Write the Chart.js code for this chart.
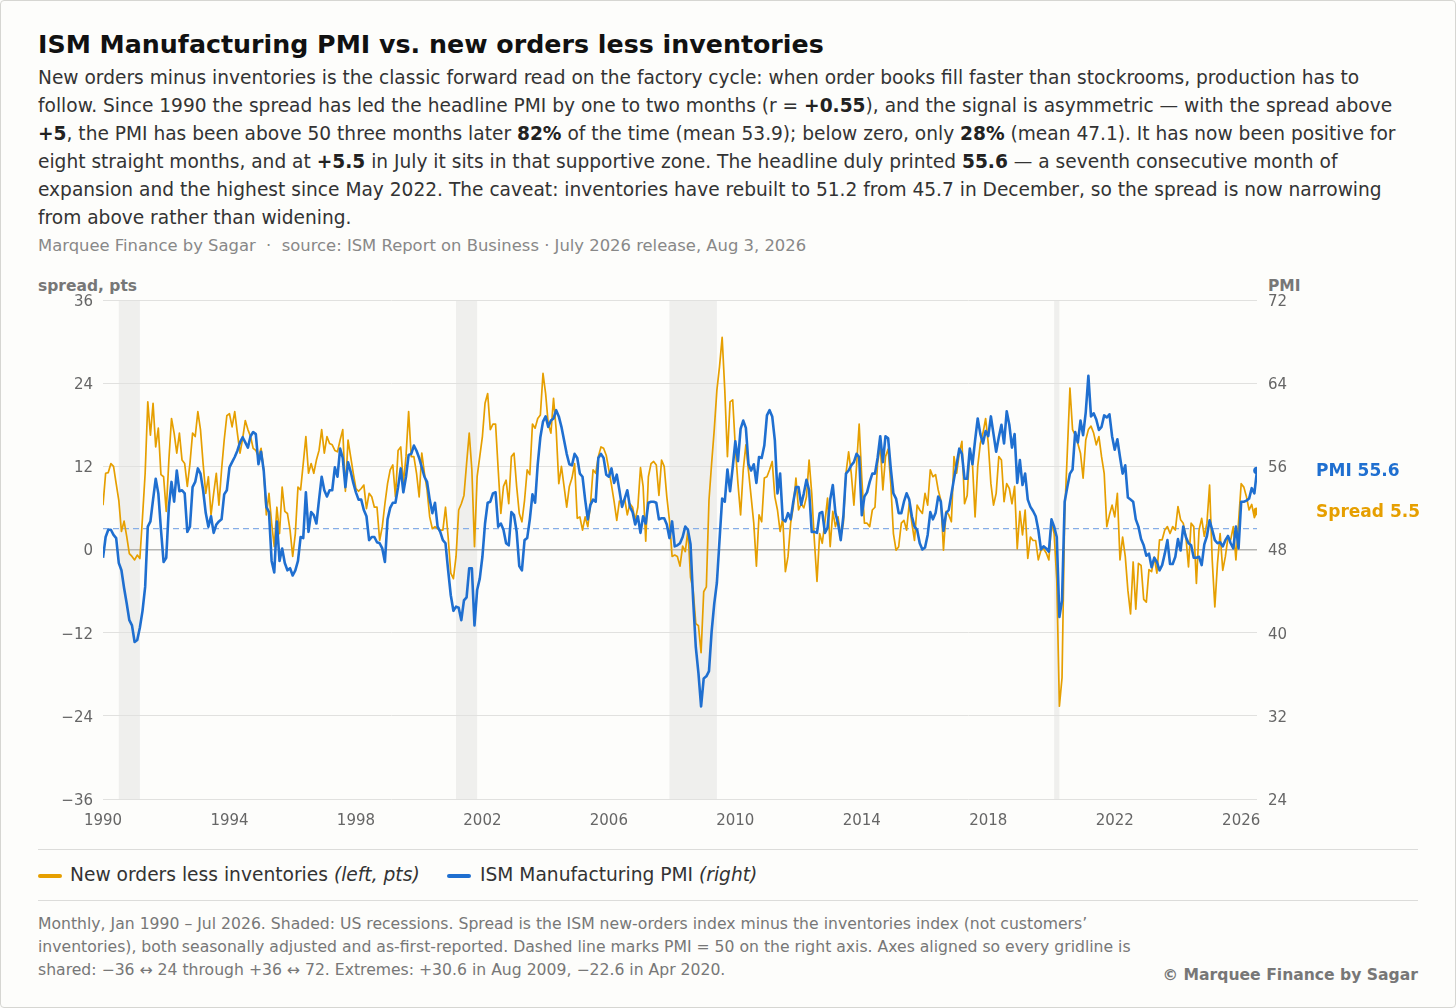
<!DOCTYPE html>
<html>
<head>
<meta charset="utf-8">
<script src="https://cdn.jsdelivr.net/npm/chart.js@4.4.1/dist/chart.umd.min.js"></script>
<style>
html,body{margin:0;padding:0;background:#fdfdfb;}
body{width:1456px;height:1008px;position:relative;overflow:hidden;font-family:'DejaVu Sans',sans-serif;}
#frame{position:absolute;left:0;top:0;width:1454px;height:1006px;border:1px solid #d6d6d2;border-radius:4px;}
.abs{position:absolute;white-space:nowrap;}
#title{left:38px;top:30px;font-size:25.3px;line-height:30px;font-weight:bold;color:#111;}
#sub{left:38px;top:64px;font-size:18.6px;line-height:28px;color:#333;}
#sub b{color:#222;}
#src{left:38px;top:236px;font-size:16.4px;line-height:20px;color:#888;}
.axt{top:277px;font-size:15.5px;line-height:18px;font-weight:bold;color:#777;}
#chartwrap{position:absolute;left:0;top:272px;width:1456px;height:560px;}
.sep{position:absolute;left:38px;width:1380px;height:1px;background:#dcdcda;}
.sw{position:absolute;height:4px;border-radius:2px;}
.leg{top:863px;font-size:18.65px;line-height:24px;color:#333;}
#foot{left:38px;top:912px;font-size:15.65px;line-height:23px;color:#777;}
#copy{right:38px;top:964px;font-size:15.6px;line-height:22px;font-weight:bold;color:#777;}
</style>
</head>
<body>
<div id="frame"></div>
<div class="abs" id="title">ISM Manufacturing PMI vs. new orders less inventories</div>
<div class="abs" id="sub">New orders minus inventories is the classic forward read on the factory cycle: when order books fill faster than stockrooms, production has to<br>follow. Since 1990 the spread has led the headline PMI by one to two months (r = <b>+0.55</b>), and the signal is asymmetric — with the spread above<br><b>+5</b>, the PMI has been above 50 three months later <b>82%</b> of the time (mean 53.9); below zero, only <b>28%</b> (mean 47.1). It has now been positive for<br>eight straight months, and at <b>+5.5</b> in July it sits in that supportive zone. The headline duly printed <b>55.6</b> — a seventh consecutive month of<br>expansion and the highest since May 2022. The caveat: inventories have rebuilt to 51.2 from 45.7 in December, so the spread is now narrowing<br>from above rather than widening.</div>
<div class="abs" id="src">Marquee Finance by Sagar &nbsp;·&nbsp; source: ISM Report on Business · July 2026 release, Aug 3, 2026</div>
<div class="abs axt" style="left:38px;">spread, pts</div>
<div class="abs axt" style="left:1268px;">PMI</div>
<div id="chartwrap"><canvas id="c" width="1456" height="560"></canvas></div>
<div class="sep" style="top:849px;"></div>
<div class="sw" style="left:38px;top:874px;width:24px;background:#E69F00;"></div>
<div class="abs leg" style="left:70px;">New orders less inventories <i>(left, pts)</i></div>
<div class="sw" style="left:447px;top:874px;width:24px;background:#1F6FD0;"></div>
<div class="abs leg" style="left:480px;">ISM Manufacturing PMI <i>(right)</i></div>
<div class="sep" style="top:900px;"></div>
<div class="abs" id="foot">Monthly, Jan 1990 – Jul 2026. Shaded: US recessions. Spread is the ISM new-orders index minus the inventories index (not customers’<br>inventories), both seasonally adjusted and as-first-reported. Dashed line marks PMI = 50 on the right axis. Axes aligned so every gridline is<br>shared: −36 ↔ 24 through +36 ↔ 72. Extremes: +30.6 in Aug 2009, −22.6 in Apr 2020.</div>
<div class="abs" id="copy">© Marquee Finance by Sagar</div>

<script>
// ---- Data: monthly, starting Jan 1990 ----
const startYear = 1990;

const spread1990s = [
  6.4, 11.0, 11.1, 12.4, 12.0, 9.5, 7.1, 2.6, 4.1, 1.9, -0.6, -1.0,
  -1.5, -0.8, -1.3, 4.7, 11.0, 21.3, 16.5, 21.1, 14.8, 17.5, 10.8, 10.5,
  5.5, 12.9, 18.9, 16.8, 13.9, 16.8, 12.9, 12.4, 9.1, 12.4, 16.8, 16.3,
  19.9, 17.3, 12.4, 8.1, 10.5, 5.0, 8.1, 11.0, 6.4, 11.5, 15.8, 19.3,
  19.6, 17.7, 19.9, 16.8, 13.9, 16.0, 18.6, 17.3, 16.3, 14.6, 14.3, 13.4,
  14.6, 11.5, 5.0, 8.1, 3.8, 0.4, 6.1, 2.3, 9.0, 5.5, 5.2, 2.8,
  -1.0, 2.3, 9.0, 8.6, 12.4, 16.3, 11.0, 12.4, 11.0, 12.9, 14.3, 17.3,
  13.9, 16.3, 15.3, 15.1, 14.3, 14.1, 15.8, 17.3, 8.4, 15.8, 13.4, 11.0,
  8.8, 8.4, 8.8, 9.3, 5.9, 8.1, 7.6, 6.1, 6.1, 1.3, 3.3, 6.6,
  9.5, 11.5, 12.2, 7.6, 14.3, 14.8, 9.5, 13.4, 19.9, 13.4, 13.4, 11.0
];
const spread2000s = [
  7.6, 13.9, 11.0, 8.6, 4.7, 3.0, 3.3, 3.0, 2.8, 2.8, 6.1, 1.8,
  -3.4, -4.2, -1.0, 5.7, 6.6, 7.8, 12.4, 16.8, 11.5, 0.4, 10.5, 13.4,
  16.3, 21.1, 22.5, 17.3, 18.1, 18.1, 11.5, 5.2, 9.1, 10.0, 6.6, 13.4,
  13.9, 9.1, 5.2, 4.0, 7.1, 11.5, 10.8, 18.1, 17.5, 18.9, 19.4, 25.4,
  22.5, 18.1, 16.8, 21.8, 17.3, 9.5, 12.0, 9.1, 6.1, 9.1, 10.3, 12.4,
  4.5, 4.7, 2.8, 4.7, 3.3, 6.4, 11.5, 11.0, 13.4, 14.8, 14.6, 13.6,
  11.5, 9.3, 6.9, 4.2, 7.0, 6.8, 7.3, 5.0, 6.6, 6.1, 4.2, 6.1,
  11.8, 9.1, 1.2, 10.5, 12.4, 12.7, 12.2, 7.8, 12.9, 12.0, 7.6, 4.2,
  -1.0, -0.8, -1.0, -2.4, 0.5, -0.3, 2.8, -4.0, -5.9, -10.7, -11.0, -14.9,
  -6.1, -5.4, 7.1, 12.4, 17.3, 23.0, 26.4, 30.6, 23.0, 13.4, 21.3, 21.6
];
const spread2010s = [
  14.8, 9.5, 5.0, 11.5, 15.1, 11.3, 7.6, 3.8, -2.4, 5.0, 4.0, 10.3,
  10.5, 11.5, 12.7, 7.6, 5.7, 2.6, 4.5, -3.2, -1.0, 3.8, 6.1, 10.3,
  5.7, 6.6, 6.0, 7.6, 12.9, 8.1, 1.3, -4.6, 2.3, 0.9, 4.0, 7.4,
  0.4, 5.5, 3.3, 4.7, 1.8, 3.8, 11.0, 14.1, 11.0, 6.4, 12.0, 18.1,
  10.3, 3.8, 3.8, 3.3, 5.7, 6.1, 12.4, 15.1, 8.6, 13.4, 14.5, 9.5,
  2.3, -0.1, 0.4, 3.8, 4.2, 2.8, 6.6, 3.8, 1.3, 6.4, 5.7, 5.2,
  8.1, 6.4, 11.5, 10.5, 10.8, 8.6, 7.1, -0.1, 5.5, 5.0, 4.0, 13.4,
  11.0, 13.9, 15.6, 6.6, 7.8, 14.3, 12.4, 4.7, 12.0, 15.3, 16.8, 18.9,
  15.3, 9.5, 6.4, 8.1, 13.4, 12.9, 6.9, 9.5, 8.8, 6.6, 9.1, 0.1,
  5.5, 2.1, 5.7, -1.3, 1.8, 1.3, 1.3, -1.5, -0.1, 0.1, -0.5, -1.5
];
const spread2020s = [
  3.8, 2.3, -4.4, -22.6, -18.5, 5.0, 14.0, 23.3, 17.3, 16.5, 15.3, 13.9,
  10.3, 15.8, 17.3, 17.8, 16.8, 15.1, 16.3, 13.4, 11.0, 3.3, 5.0, 6.4,
  4.7, 8.1, -1.5, 1.8, -1.0, -5.9, -9.3, -1.8, -8.6, -2.0, -2.3, -7.2,
  -7.6, -2.9, -3.2, -1.1, -3.4, 1.4, 1.4, 2.8, 3.3, 2.3, 3.3, 2.8,
  6.2, 4.3, 3.8, 1.9, -2.5, 3.8, 3.3, -4.9, 2.8, 4.5, 1.9, 3.8,
  9.3, -1.5, -8.3, -2.0, 2.3, -3.0, -1.0, 1.8, 1.4, 3.3, -1.5, 4.0,
  9.5, 9.0, 7.6, 5.7, 6.5, 4.6, 5.5
];

const pmi1990s = [
  47.2, 49.2, 49.9, 49.9, 49.4, 49.1, 46.7, 46.0, 44.3, 42.8, 41.2, 40.7,
  39.1, 39.3, 40.5, 42.1, 44.4, 50.2, 50.7, 52.8, 54.8, 53.4, 49.9, 46.8,
  47.2, 52.1, 54.5, 52.6, 55.6, 53.6, 53.7, 53.4, 49.7, 50.2, 54.0, 54.5,
  55.8, 55.3, 53.7, 51.5, 50.2, 51.2, 49.6, 50.4, 50.7, 50.9, 53.3, 53.7,
  55.9, 56.4, 56.9, 57.5, 58.3, 58.8, 58.3, 57.8, 58.9, 59.3, 59.1, 56.2,
  57.4, 55.6, 52.1, 51.6, 46.9, 45.8, 50.7, 46.9, 48.1, 46.7, 46.0, 46.2,
  45.5, 46.0, 46.9, 49.2, 49.1, 53.5, 49.7, 51.6, 51.3, 50.5, 52.8, 55.0,
  53.7, 53.1, 53.7, 53.7, 55.9, 55.0, 57.7, 56.8, 54.0, 56.4, 55.5, 54.4,
  53.5, 52.8, 52.8, 51.8, 51.2, 48.9, 49.2, 49.2, 48.7, 48.6, 48.1, 46.8,
  50.9, 52.0, 52.5, 52.5, 54.0, 55.8, 53.5, 55.0, 57.1, 57.2, 58.0, 57.5
];
const pmi2000s = [
  56.8, 55.9, 55.0, 54.5, 52.8, 51.5, 52.5, 50.2, 49.7, 48.9, 48.6, 46.0,
  43.6, 42.1, 42.5, 42.4, 41.2, 43.1, 43.4, 46.2, 46.2, 40.7, 44.1, 45.2,
  47.3, 50.5, 52.5, 52.6, 53.4, 53.5, 50.2, 50.5, 49.9, 48.6, 48.4, 51.6,
  51.3, 49.7, 46.4, 46.0, 48.9, 49.1, 50.9, 53.3, 52.5, 56.2, 58.8, 60.3,
  60.8, 59.8, 60.4, 60.6, 61.4, 60.8, 59.8, 58.5, 57.2, 56.2, 56.1, 57.2,
  56.8, 55.3, 55.0, 52.8, 50.9, 52.3, 52.8, 52.6, 56.8, 57.2, 56.8, 55.2,
  55.0, 55.8, 54.4, 55.2, 53.7, 52.1, 52.9, 53.7, 52.1, 51.6, 50.4, 51.2,
  49.6, 51.2, 50.5, 52.5, 52.6, 52.6, 52.5, 50.9, 51.0, 51.0, 50.4, 49.1,
  50.7, 48.3, 48.4, 48.6, 49.2, 50.2, 49.9, 48.5, 43.1, 38.6, 36.1, 32.9,
  35.6, 35.8, 36.3, 40.1, 42.8, 44.8, 48.9, 52.9, 52.6, 55.7, 53.6, 55.9
];
const pmi2010s = [
  58.4, 56.5, 59.6, 60.4, 59.7, 56.2, 55.6, 56.2, 54.4, 56.9, 56.8, 58.0,
  60.9, 61.4, 60.8, 58.5, 53.4, 55.3, 50.9, 50.7, 51.5, 50.9, 52.6, 54.0,
  54.0, 52.3, 53.4, 54.7, 53.7, 49.7, 49.7, 49.6, 51.5, 51.6, 49.6, 50.1,
  52.8, 54.2, 51.5, 50.5, 48.9, 51.2, 55.3, 55.6, 56.1, 56.4, 57.2, 56.9,
  51.3, 53.1, 53.5, 54.5, 55.3, 55.3, 56.8, 58.9, 56.4, 58.9, 58.7, 55.8,
  53.4, 52.9, 51.5, 51.5, 52.6, 53.4, 52.8, 51.2, 50.2, 49.9, 48.6, 48.0,
  48.2, 49.4, 51.6, 50.9, 51.5, 53.1, 52.6, 49.8, 51.5, 51.8, 53.3, 54.8,
  56.2, 57.7, 57.2, 54.8, 54.8, 57.7, 56.2, 58.5, 60.6, 59.1, 58.2, 59.4,
  58.9, 60.8, 59.1, 57.4, 58.8, 60.0, 58.2, 61.3, 60.0, 57.8, 59.1, 54.4,
  56.6, 54.2, 55.3, 52.8, 52.1, 51.7, 51.2, 49.9, 48.0, 48.3, 48.1, 47.8
];
const pmi2020s = [
  50.9, 50.2, 49.2, 41.5, 43.1, 52.6, 54.0, 55.3, 55.7, 59.3, 58.3, 60.4,
  59.0, 61.2, 64.7, 60.8, 61.1, 60.5, 59.5, 59.8, 60.9, 60.7, 61.0, 58.9,
  57.6, 58.6, 56.9, 55.3, 56.1, 53.0, 52.8, 52.6, 50.9, 50.2, 49.0, 48.4,
  47.4, 47.6, 46.3, 47.2, 46.8, 46.0, 46.5, 47.6, 48.9, 46.6, 46.6, 47.3,
  49.0, 47.9, 50.2, 49.2, 48.6, 48.4, 47.2, 47.2, 47.3, 46.5, 48.5, 49.3,
  50.8, 49.9, 48.9, 48.6, 48.7, 48.3, 48.9, 49.3, 48.6, 48.1, 50.2, 48.1,
  52.6, 52.6, 52.7, 52.9, 53.9, 53.4, 55.6
];

const xTickYears = [1990, 1994, 1998, 2002, 2006, 2010, 2014, 2018, 2022, 2026];
const leftTicks = [-36, -24, -12, 0, 12, 24, 36];
const rightTicks = [24, 32, 40, 48, 56, 64, 72];
const pmiThreshold = 50;
// US recessions as [start year, start month, end year, end month]
const recessions = [
  [1990, 7, 1991, 3],
  [2001, 3, 2001, 11],
  [2007, 12, 2009, 6],
  [2020, 2, 2020, 4]
];

// ---- build ----
const ORANGE = '#E69F00';
const BLUE = '#1F6FD0';
const spread = [].concat(spread1990s, spread2000s, spread2010s, spread2020s);
const pmi = [].concat(pmi1990s, pmi2000s, pmi2010s, pmi2020s);
const toX = i => startYear + i / 12;
const spreadPts = spread.map((v, i) => ({x: toX(i), y: v}));
const pmiPts = pmi.map((v, i) => ({x: toX(i), y: v}));
const lastIdx = spread.length - 1;
const ym = (y, m) => y + (m - 1) / 12;
const fmtMinus = v => (v < 0 ? '\u2212' + Math.abs(v) : String(v));

Chart.defaults.font.family = "'DejaVu Sans', sans-serif";

const bgPlugin = {
  id: 'bg',
  beforeDraw(chart) {
    const {ctx, chartArea: a, scales: {x}} = chart;
    ctx.save();
    ctx.fillStyle = '#efefed';
    recessions.forEach(r => {
      const x0 = x.getPixelForValue(ym(r[0], r[1]));
      const x1 = x.getPixelForValue(ym(r[2], r[3]));
      ctx.fillRect(x0, a.top, Math.max(x1 - x0, 3), a.bottom - a.top);
    });
    ctx.restore();
  },
  beforeDatasetsDraw(chart) {
    const {ctx, chartArea: a, scales: {y2}} = chart;
    const yy = y2.getPixelForValue(pmiThreshold);
    ctx.save();
    ctx.strokeStyle = '#86aee6';
    ctx.lineWidth = 1.2;
    ctx.setLineDash([6, 4]);
    ctx.beginPath();
    ctx.moveTo(a.left, yy);
    ctx.lineTo(a.right, yy);
    ctx.stroke();
    ctx.restore();
  },
  afterDatasetsDraw(chart) {
    const {ctx, scales: {y, y2}} = chart;
    ctx.save();
    ctx.font = "bold 17px 'DejaVu Sans'";
    ctx.textBaseline = 'middle';
    ctx.textAlign = 'left';
    ctx.fillStyle = BLUE;
    ctx.fillText('PMI ' + pmi[lastIdx].toFixed(1), 1316, y2.getPixelForValue(pmi[lastIdx]) + 1);
    ctx.fillStyle = ORANGE;
    ctx.fillText('Spread ' + spread[lastIdx].toFixed(1), 1316, y.getPixelForValue(spread[lastIdx]) + 1);
    ctx.restore();
  }
};

const endRadius = ctx => (ctx.dataIndex === lastIdx ? 3.8 : 0);

new Chart(document.getElementById('c'), {
  type: 'line',
  data: {
    datasets: [
      {
        label: 'New orders less inventories',
        data: spreadPts,
        yAxisID: 'y',
        borderColor: ORANGE,
        backgroundColor: ORANGE,
        borderWidth: 1.7,
        pointRadius: endRadius,
        pointHoverRadius: 0,
        pointBorderWidth: 0,
        borderJoinStyle: 'round',
        tension: 0,
        order: 2
      },
      {
        label: 'ISM Manufacturing PMI',
        data: pmiPts,
        yAxisID: 'y2',
        borderColor: BLUE,
        backgroundColor: BLUE,
        borderWidth: 2.6,
        pointRadius: endRadius,
        pointHoverRadius: 0,
        pointBorderWidth: 0,
        borderJoinStyle: 'round',
        tension: 0,
        order: 1
      }
    ]
  },
  options: {
    responsive: false,
    animation: false,
    events: [],
    layout: {padding: {top: 28, left: 0, right: 0, bottom: 0}},
    scales: {
      x: {
        type: 'linear',
        min: startYear,
        max: toX(lastIdx),
        afterBuildTicks: s => { s.ticks = xTickYears.map(v => ({value: v})); },
        afterFit: s => { s.height = 33; },
        ticks: {padding: 13, color: '#666', font: {size: 15}, maxRotation: 0, autoSkip: false, callback: v => String(v)},
        grid: {display: false, drawTicks: false},
        border: {display: false}
      },
      y: {
        position: 'left',
        min: -36, max: 36,
        afterBuildTicks: s => { s.ticks = leftTicks.map(v => ({value: v})); },
        afterFit: s => { s.width = 103; },
        ticks: {padding: 10, labelOffset: 2, color: '#666', font: {size: 15}, callback: v => fmtMinus(v)},
        grid: {
          drawTicks: false,
          color: c => (c.tick && c.tick.value === 0 ? '#b4b4b2' : '#e1e1df'),
          lineWidth: c => (c.tick && c.tick.value === 0 ? 1.4 : 1)
        },
        border: {display: false}
      },
      y2: {
        position: 'right',
        min: 24, max: 72,
        afterBuildTicks: s => { s.ticks = rightTicks.map(v => ({value: v})); },
        afterFit: s => { s.width = 199; },
        ticks: {padding: 11, labelOffset: 2, color: '#666', font: {size: 15}},
        grid: {display: false, drawTicks: false},
        border: {display: false}
      }
    },
    plugins: {legend: {display: false}, tooltip: {enabled: false}}
  },
  plugins: [bgPlugin]
});
</script>
</body>
</html>
